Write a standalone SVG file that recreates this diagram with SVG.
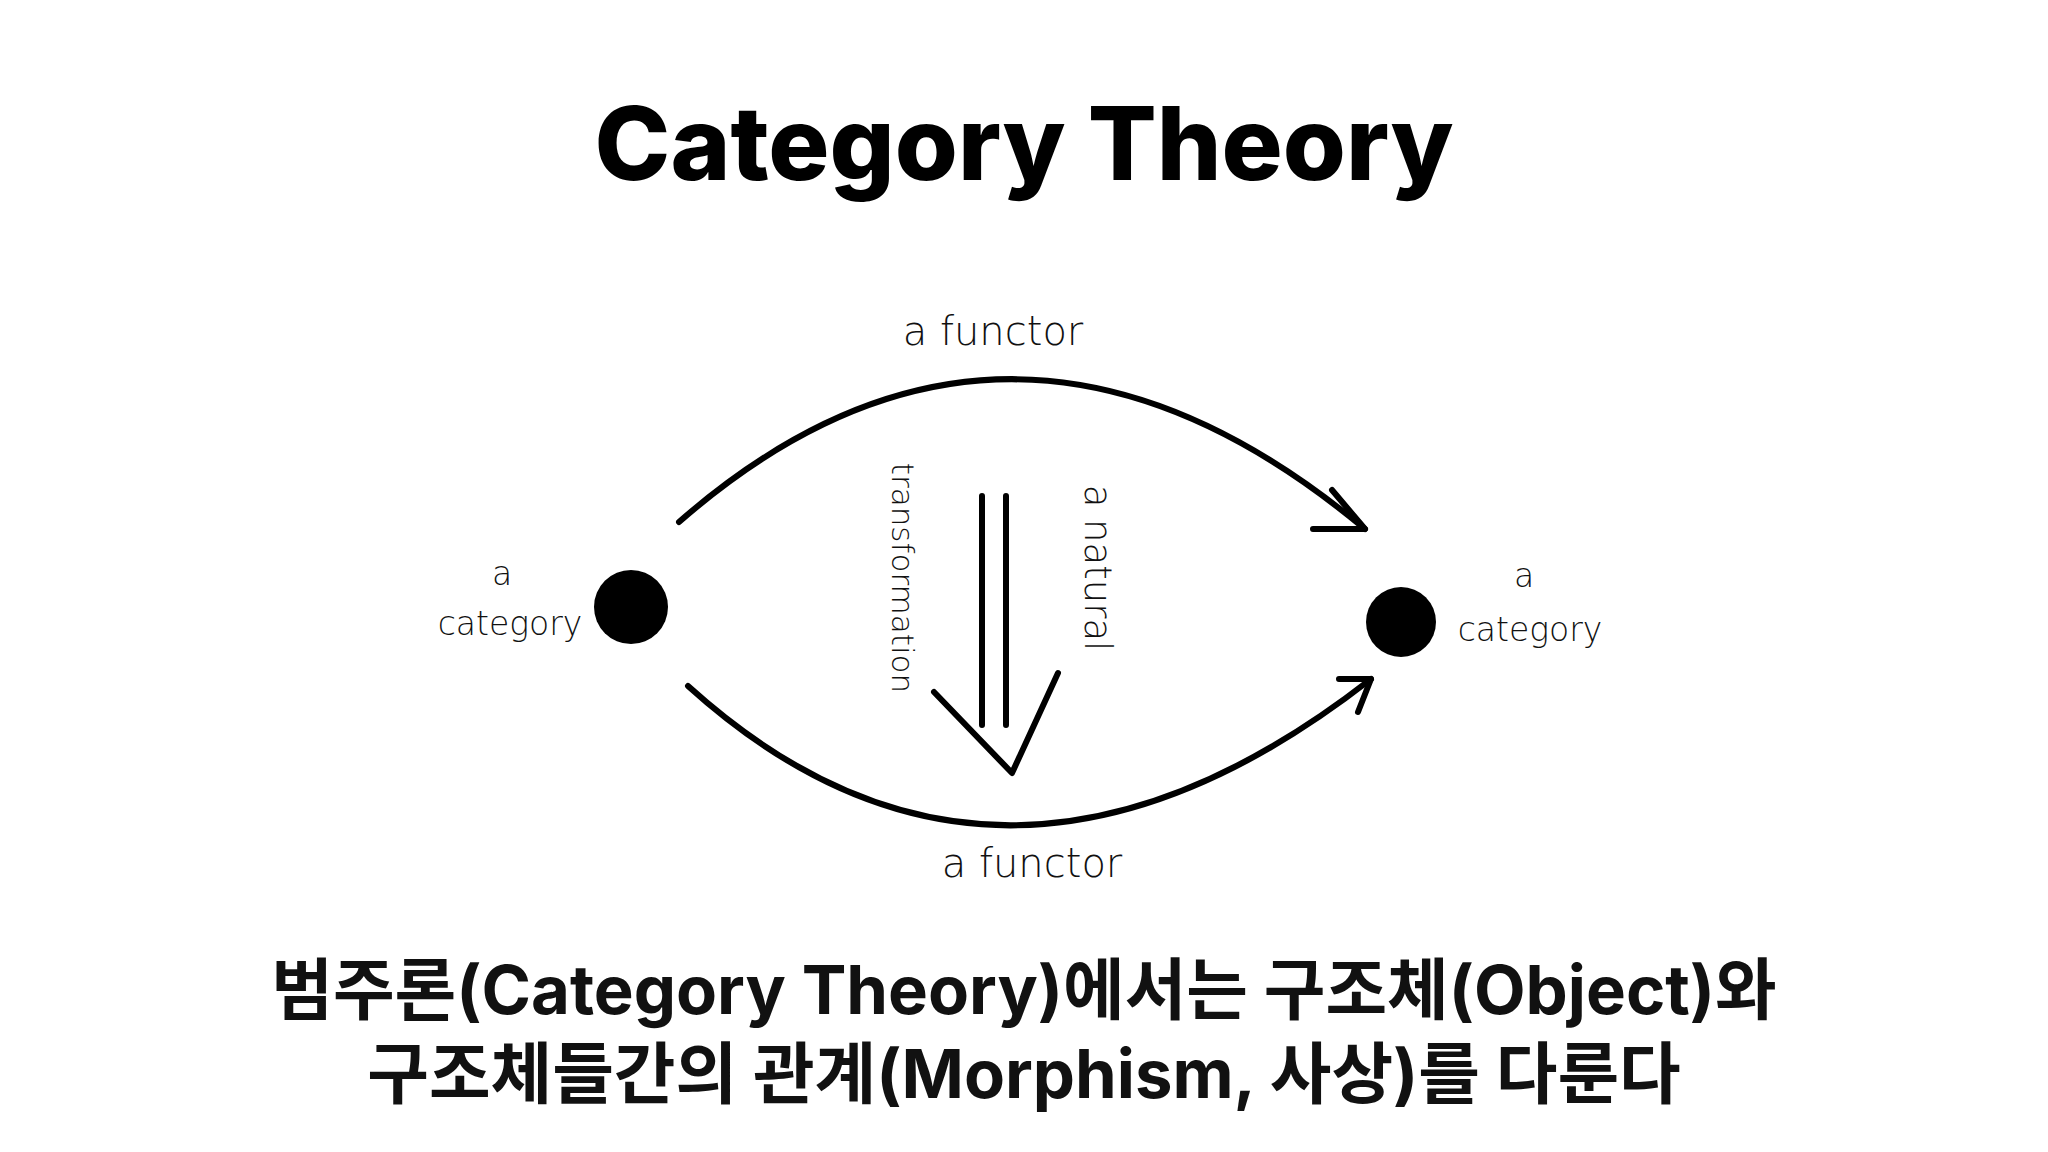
<svg xmlns="http://www.w3.org/2000/svg" width="2048" height="1152" viewBox="0 0 2048 1152">
<style>
.hand{font-family:"DejaVu Sans",sans-serif;font-size:40px;fill:#111;font-weight:300}
.sm{font-size:33px}
.ln{fill:none;stroke:#000;stroke-width:6;stroke-linecap:round;stroke-linejoin:round}
.kr{font-family:Inter,"Noto Sans CJK KR",sans-serif;font-weight:700;font-size:67px;fill:#111;text-anchor:middle}
</style>
<rect width="2048" height="1152" fill="#fff"/>
<text x="1024" y="180" font-family="Inter,'Liberation Sans',sans-serif" font-weight="800" font-size="102" text-anchor="middle" fill="#000">Category Theory</text>
<g id="cat-left">
<circle cx="631" cy="607" r="37" fill="#000"/>
<text class="hand sm" x="502" y="585" text-anchor="middle">a</text>
<text class="hand sm" x="510" y="635" text-anchor="middle">category</text>
</g>
<g id="cat-right">
<circle cx="1401" cy="622" r="35" fill="#000"/>
<text class="hand sm" x="1524" y="587" text-anchor="middle">a</text>
<text class="hand sm" x="1530" y="641" text-anchor="middle">category</text>
</g>
<g id="connectors">
<path class="ln" d="M679 522 Q1010 233 1365 529"/>
<path class="ln" d="M1332 490 L1365 529 L1313 529"/>
<path class="ln" d="M688 686 Q1000 968 1371 679"/>
<path class="ln" d="M1339 679 L1371 679 L1358 712"/>
<path class="ln" d="M982 496 L982 725 M1006 496 L1006 725"/>
<path class="ln" d="M934 692 L1012 773 L1058 673"/>
</g>
<g id="labels">
<text class="hand" x="993" y="345" text-anchor="middle">a functor</text>
<text class="hand" x="1032" y="877" text-anchor="middle">a functor</text>
<text class="hand" transform="translate(903 578) rotate(90)" text-anchor="middle" y="11" style="font-size:31px">transformation</text>
<text class="hand" transform="translate(1097 568) rotate(90)" text-anchor="middle" y="12" style="font-size:37px">a natural</text>
</g>
<text class="kr" x="1024" y="1014">범주론(Category Theory)에서는 구조체(Object)와</text>
<text class="kr" x="1024" y="1098">구조체들간의 관계(Morphism, 사상)를 다룬다</text>
</svg>
